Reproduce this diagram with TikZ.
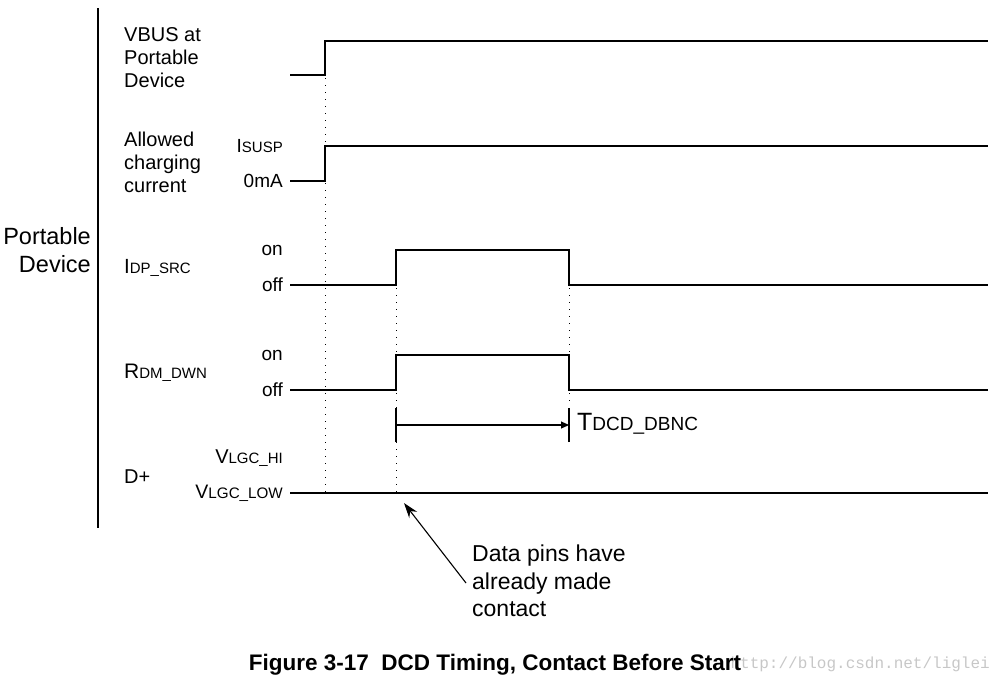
\documentclass[tikz,border=0pt]{standalone}
\usepackage{fontspec}
\setmainfont{Liberation Sans}
\newfontfamily\markfont{Liberation Mono}
\usetikzlibrary{arrows.meta,positioning}

% big letter followed by small letters on the same baseline
\newcommand{\signame}[4]{{\fontsize{#1}{#1}\selectfont #2}{\fontsize{#3}{#3}\selectfont #4}}

\begin{document}
\begin{tikzpicture}[x=1pt,y=-1pt,
    label/.style={inner sep=0pt, align=left, font=\fontsize{20}{23}\selectfont},
    level/.style={inner sep=0pt, anchor=east, font=\fontsize{19}{22}\selectfont},
    wave/.style={line width=1.5pt},
    tick/.style={line width=1.1pt},
    guide/.style={line width=1pt, dash pattern=on 1pt off 6pt}]
\useasboundingbox (0,0) rectangle (1003,683);
% time marks
\coordinate (t0) at (290,0);
\coordinate (t1) at (325,0);
\coordinate (t2) at (396,0);
\coordinate (t3) at (569,0);
\coordinate (t4) at (988,0);
% signal levels
\coordinate (vbus hi) at (0,41);  \coordinate (vbus lo) at (0,75);
\coordinate (chg hi) at (0,146);  \coordinate (chg lo) at (0,181);
\coordinate (dp hi) at (0,250);   \coordinate (dp lo) at (0,285);
\coordinate (dm hi) at (0,355);   \coordinate (dm lo) at (0,390);
\coordinate (d hi) at (0,458);    \coordinate (d lo) at (0,493);

\node[label, anchor=east, align=right, font=\fontsize{23.5}{28}\selectfont] (side) at (91,250) {Portable\\Device};
\draw[line width=1.2pt] (98,8) -- (98,528);

\node[label, anchor=west] (vbus) at (124,58) {VBUS at\\Portable\\Device};
\node[label, anchor=west] (chg) at (124,162) {Allowed\\charging\\current};
\node[label, anchor=west] (dp) at (124,268) {\signame{20.5}{I}{15}{DP\_SRC}};
\node[label, anchor=west] (dm) at (124,373) {\signame{21}{R}{15}{DM\_DWN}};
\node[label, anchor=west] (d) at (124,477) {D+};

\node[level] (chg on) at (283,146) {\signame{19}{I}{15}{SUSP}};
\node[level] (chg off) at (283,181) {0mA};
\node[level] (dp on) at (283,250) {on};
\node[level] (dp off) at (283,285) {off};
\node[level] (dm on) at (283,355) {on};
\node[level] (dm off) at (283,390) {off};
\node[level] (d on) at (283,458) {\signame{20}{V}{15}{LGC\_HI}};
\node[level] (d off) at (283,493) {\signame{19.5}{V}{15.2}{LGC\_LOW}};

% waveforms
\draw[wave] (t0 |- vbus lo) -- (t1 |- vbus lo) -- (t1 |- vbus hi) -- (t4 |- vbus hi);
\draw[wave] (t0 |- chg lo) -- (t1 |- chg lo) -- (t1 |- chg hi) -- (t4 |- chg hi);
\draw[wave] (t0 |- dp lo) -- (t2 |- dp lo) -- (t2 |- dp hi) -- (t3 |- dp hi)
            -- (t3 |- dp lo) -- (t4 |- dp lo);
\draw[wave] (t0 |- dm lo) -- (t2 |- dm lo) -- (t2 |- dm hi) -- (t3 |- dm hi)
            -- (t3 |- dm lo) -- (t4 |- dm lo);
\draw[wave] (t0 |- d lo) -- (t4 |- d lo);

% guides
\draw[guide] ([yshift=4pt]t1 |- vbus lo) -- ([yshift=-3pt]t1 |- d lo);
\draw[guide] ([yshift=4pt]t2 |- dp lo) -- ([yshift=-1pt]t2 |- d lo);
\draw[guide] ([yshift=4pt]t3 |- dp lo) -- (t3 |- 0,406);

% debounce time
\coordinate (db a) at (t2 |- 0,425);
\coordinate (db b) at (t3 |- 0,425);
\draw[tick] ([yshift=-17pt]db a) -- ([yshift=17pt]db a);
\draw[tick] ([yshift=-17pt]db b) -- ([yshift=17pt]db b);
\draw[tick, -{Triangle[length=8pt,width=7pt]}] (db a) -- (db b);
\node[label, anchor=west] (db) at (577,424) {\signame{25}{T}{19}{DCD\_DBNC}};

% note
\node[label, anchor=west, font=\fontsize{23}{27.5}\selectfont] (note) at (472,581) {Data pins have\\already made\\contact};
\coordinate (pin) at (404,503);
\draw[line width=1.1pt, -{Stealth[length=15pt,width=10pt]}] ([xshift=-6pt,yshift=-2pt]note.west) -- (pin);

\node[anchor=east, inner sep=0pt, text=black!22, font=\markfont\fontsize{16}{18}\selectfont] (mark) at (990,664) {http://blog.csdn.net/liglei};
\node[inner sep=0pt, font=\bfseries\fontsize{22.5}{26}\selectfont] (caption) at (495,665) {Figure 3-17\ \ DCD Timing, Contact Before Start};
\end{tikzpicture}
\end{document}
